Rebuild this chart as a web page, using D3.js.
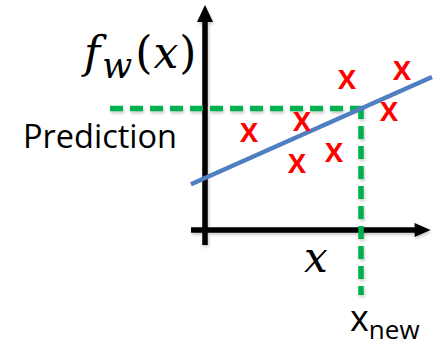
<!DOCTYPE html>
<html>
<head>
<meta charset="utf-8">
<script src="https://cdn.jsdelivr.net/npm/d3@7"></script>
<style>
  html, body { margin: 0; padding: 0; background: #fff; }
  svg { display: block; }
</style>
</head>
<body>
<svg id="chart" width="433" height="346"></svg>
<script>
// Training samples (x, y)
const pointX = [2.2, 4.85, 4.6, 6.45, 7.1, 9.85, 9.2];
const pointY = [4.9, 5.45, 3.35, 3.9, 7.55, 8.0, 5.95];

// Fitted model f_w(x) = weight * x + bias
const weight = 0.445;
const bias = 2.6;
const fitRange = [-0.7, 11.35];

// New input and its guide-line extents
const xNew = 7.8;
const guideLeft = -4.75;
const guideBottom = -3.25;

// Axis extents (data units)
const xAxisExtent = [-0.7, 11.28];
const yAxisExtent = [-0.75, 11.25];

const svg = d3.select("#chart");
const x = d3.scaleLinear().domain([0, 10]).range([205, 405]);
const y = d3.scaleLinear().domain([0, 10]).range([230, 30]);
const f = v => weight * v + bias;
const prediction = f(xNew);

const defs = svg.append("defs");
defs.append("filter").attr("id", "soft").attr("x", "-20%").attr("y", "-20%")
  .attr("width", "140%").attr("height", "160%")
  .append("feDropShadow").attr("dx", 1).attr("dy", 2).attr("stdDeviation", 1.4)
  .attr("flood-color", "#000").attr("flood-opacity", 0.22);

// Axes with arrowheads
const axes = svg.append("g").attr("filter", "url(#soft)");
const arrowLen = 16, arrowHalf = 8;
axes.append("line")
  .attr("x1", x(xAxisExtent[0])).attr("x2", x(xAxisExtent[1]) - arrowLen + 1)
  .attr("y1", y(0)).attr("y2", y(0))
  .attr("stroke", "#000").attr("stroke-width", 5.5);
axes.append("path")
  .attr("d", `M${x(xAxisExtent[1])},${y(0)} L${x(xAxisExtent[1]) - arrowLen},${y(0) - arrowHalf + 1} L${x(xAxisExtent[1]) - arrowLen},${y(0) + arrowHalf - 1}Z`)
  .attr("fill", "#000");
axes.append("line")
  .attr("x1", x(0)).attr("x2", x(0))
  .attr("y1", y(yAxisExtent[0])).attr("y2", y(yAxisExtent[1]) + arrowLen - 1)
  .attr("stroke", "#000").attr("stroke-width", 5.5);
axes.append("path")
  .attr("d", `M${x(0)},${y(yAxisExtent[1])} L${x(0) - arrowHalf},${y(yAxisExtent[1]) + arrowLen + 1} L${x(0) + arrowHalf},${y(yAxisExtent[1]) + arrowLen + 1}Z`)
  .attr("fill", "#000");

// Green guides from the prediction to both axes
const guides = svg.append("g").attr("filter", "url(#soft)")
  .attr("stroke", "#00B050").attr("stroke-width", 5.5)
  .attr("stroke-dasharray", "13,7").attr("fill", "none");
guides.append("path")
  .attr("d", d3.line()([[x(guideLeft), y(prediction)], [x(xNew), y(prediction)]]));
guides.append("path")
  .attr("d", d3.line()([[x(xNew), y(prediction) - 2.5], [x(xNew), y(guideBottom)]]));

// Regression line
svg.append("path")
  .attr("d", d3.line().x(d => x(d)).y(d => y(f(d)))(fitRange))
  .attr("stroke", "#4F7EC1").attr("stroke-width", 4.5).attr("fill", "none");

// Data points drawn as red crosses
svg.append("g").selectAll("text").data(pointX.map((v, i) => [v, pointY[i]]))
  .join("text")
  .attr("x", d => x(d[0])).attr("y", d => y(d[1]))
  .attr("dy", "0.36em")
  .attr("text-anchor", "middle")
  .attr("font-family", "'Open Sans', sans-serif")
  .attr("font-weight", 700).attr("font-size", 27)
  .attr("fill", "#FF0000")
  .text("X");

// Labels
const serif = "'DejaVu Serif', 'Liberation Serif', serif";
const fw = svg.append("text").attr("x", 84).attr("y", 68)
  .attr("font-family", serif).attr("font-size", 44).attr("fill", "#000");
fw.append("tspan").attr("font-style", "italic").text("f");
fw.append("tspan").attr("font-style", "italic").attr("font-size", 35).attr("dx", 2).attr("dy", 10).text("w");
fw.append("tspan").attr("dy", -10).attr("dx", 3).text("(");
fw.append("tspan").attr("font-style", "italic").attr("dx", 1).text("x");
fw.append("tspan").attr("dx", 1).text(")");

svg.append("text").attr("x", 23).attr("y", 148)
  .attr("font-family", "'Open Sans', sans-serif").attr("font-size", 32.5)
  .attr("fill", "#000").text("Prediction");

svg.append("text").attr("x", 304).attr("y", 272)
  .attr("font-family", serif).attr("font-style", "italic").attr("font-size", 42)
  .attr("fill", "#000").text("x");

const xn = svg.append("text").attr("x", 350).attr("y", 331)
  .attr("font-family", "'Open Sans', sans-serif").attr("font-size", 36).attr("fill", "#000");
xn.append("tspan").text("x");
xn.append("tspan").attr("font-size", 26).attr("dy", 8).text("new");
</script>
</body>
</html>
